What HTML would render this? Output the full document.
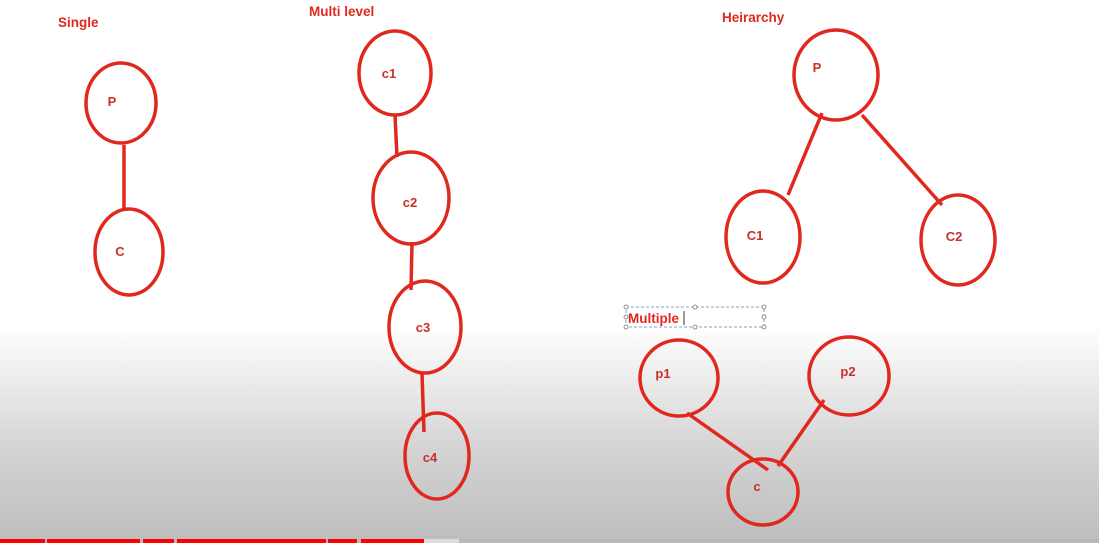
<!DOCTYPE html>
<html><head><style>
body{margin:0;width:1099px;height:543px;overflow:hidden;background:linear-gradient(to bottom,#fff 0px,#fff 325px,#ececec 380px,#d4d4d4 450px,#bebebe 537px);font-family:"Liberation Sans",sans-serif}
</style></head><body>
<svg width="1099" height="543" xmlns="http://www.w3.org/2000/svg" style="position:absolute;left:0;top:0">
<g fill="none" stroke="#e0281e" stroke-width="3.5">
<ellipse cx="121" cy="103" rx="35" ry="40"/>
<ellipse cx="129" cy="252" rx="34" ry="43"/>
<line x1="124" y1="145" x2="124" y2="210"/>
<ellipse cx="395" cy="73" rx="36" ry="42"/>
<ellipse cx="411" cy="198" rx="38" ry="46"/>
<ellipse cx="425" cy="327" rx="36" ry="46"/>
<ellipse cx="437" cy="456" rx="32" ry="43"/>
<line x1="395" y1="115" x2="397" y2="157"/>
<line x1="412" y1="242" x2="411" y2="290"/>
<line x1="422" y1="373" x2="424" y2="432"/>
<ellipse cx="836" cy="75" rx="42" ry="45"/>
<ellipse cx="763" cy="237" rx="37" ry="46"/>
<ellipse cx="958" cy="240" rx="37" ry="45"/>
<line x1="822" y1="113" x2="788" y2="195"/>
<line x1="862" y1="115" x2="942" y2="205"/>
<ellipse cx="679" cy="378" rx="39" ry="38"/>
<ellipse cx="849" cy="376" rx="40" ry="39"/>
<ellipse cx="763" cy="492" rx="35" ry="33"/>
<line x1="687" y1="413" x2="768" y2="470"/>
<line x1="824" y1="400" x2="778" y2="466"/>
</g>
<g font-weight="bold" font-size="13.5" fill="#e0281e" font-family="Liberation Sans, sans-serif">
<text x="58" y="27">Single</text>
<text x="309" y="16">Multi level</text>
<text x="722" y="22">Heirarchy</text>
<text x="628" y="323">Multiple</text>
</g>
<g font-weight="bold" font-size="13" fill="#c8302a" font-family="Liberation Sans, sans-serif" text-anchor="middle">
<text x="112" y="106">P</text>
<text x="120" y="256">C</text>
<text x="389" y="78">c1</text>
<text x="410" y="207">c2</text>
<text x="423" y="332">c3</text>
<text x="430" y="462">c4</text>
<text x="817" y="72">P</text>
<text x="755" y="240">C1</text>
<text x="954" y="241">C2</text>
<text x="663" y="378">p1</text>
<text x="848" y="376">p2</text>
<text x="757" y="491">c</text>
</g>
<rect x="626" y="307" width="138" height="20" fill="none" stroke="#7fa6c8" stroke-dasharray="3,2"/>
<g fill="#fff" stroke="#777" stroke-width="0.8">
<circle cx="626" cy="307" r="2"/><circle cx="695" cy="307" r="2"/><circle cx="764" cy="307" r="2"/>
<circle cx="626" cy="317" r="2"/><circle cx="764" cy="317" r="2"/>
<circle cx="626" cy="327" r="2"/><circle cx="695" cy="327" r="2"/><circle cx="764" cy="327" r="2"/>
</g>
<line x1="684" y1="311" x2="684" y2="325" stroke="#333" stroke-width="1"/>
<rect x="0" y="539" width="1099" height="4" fill="#b8b8b8"/>
<g fill="#f00">
<rect x="0" y="539" width="45" height="4"/><rect x="47" y="539" width="93" height="4"/>
<rect x="143" y="539" width="31" height="4"/><rect x="177" y="539" width="149" height="4"/>
<rect x="328" y="539" width="29" height="4"/><rect x="361" y="539" width="63" height="4"/>
</g>
<rect x="424" y="539" width="35" height="4" fill="#ddd"/>
</svg>
</body></html>
